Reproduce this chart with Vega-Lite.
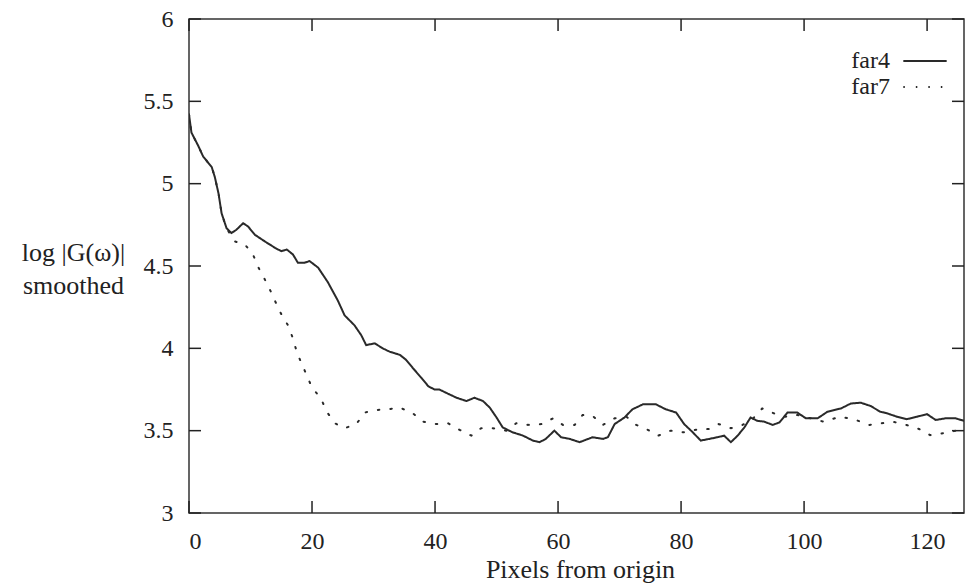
{
  "$schema": "https://vega.github.io/schema/vega-lite/v6.json",
  "width": 775,
  "height": 494,
  "autosize": {"type": "none"},
  "padding": {"left": 189, "top": 19, "right": 1, "bottom": 71},
  "background": "white",
  "config": {
    "view": {"stroke": "#333", "strokeWidth": 1.5},
    "font": "Liberation Serif",
    "axis": {
      "labelFont": "Liberation Serif",
      "labelFontSize": 24,
      "labelColor": "#222",
      "ticks": false,
      "titleFont": "Liberation Serif",
      "titleFontSize": 26,
      "titleFontWeight": "normal",
      "titleColor": "#222",
      "grid": false,
      "domain": false
    },
    "legend": {"labelFont": "Liberation Serif", "labelFontSize": 24, "labelColor": "#222"}
  },
  "datasets": {
    "xticks": [{"x": 0}, {"x": 20}, {"x": 40}, {"x": 60}, {"x": 80}, {"x": 100}, {"x": 120}],
    "yticks": [{"y": 3}, {"y": 3.5}, {"y": 4}, {"y": 4.5}, {"y": 5}, {"y": 5.5}, {"y": 6}],
    "curves": [
      {"x": 0, "y": 5.42, "series": "far4"},
      {"x": 0.4, "y": 5.31, "series": "far4"},
      {"x": 1.5, "y": 5.23, "series": "far4"},
      {"x": 2.3, "y": 5.165, "series": "far4"},
      {"x": 3.7, "y": 5.1, "series": "far4"},
      {"x": 4.2, "y": 5.04, "series": "far4"},
      {"x": 4.8, "y": 4.94, "series": "far4"},
      {"x": 5.3, "y": 4.82, "series": "far4"},
      {"x": 6.1, "y": 4.73, "series": "far4"},
      {"x": 6.9, "y": 4.7, "series": "far4"},
      {"x": 7.7, "y": 4.72, "series": "far4"},
      {"x": 8.8, "y": 4.76, "series": "far4"},
      {"x": 9.6, "y": 4.74, "series": "far4"},
      {"x": 10.7, "y": 4.69, "series": "far4"},
      {"x": 12.3, "y": 4.65, "series": "far4"},
      {"x": 14.0, "y": 4.61, "series": "far4"},
      {"x": 15.0, "y": 4.59, "series": "far4"},
      {"x": 15.9, "y": 4.6, "series": "far4"},
      {"x": 16.9, "y": 4.57, "series": "far4"},
      {"x": 17.7, "y": 4.52, "series": "far4"},
      {"x": 18.8, "y": 4.52, "series": "far4"},
      {"x": 19.6, "y": 4.53, "series": "far4"},
      {"x": 21.0, "y": 4.49, "series": "far4"},
      {"x": 22.6, "y": 4.4, "series": "far4"},
      {"x": 24.2, "y": 4.29, "series": "far4"},
      {"x": 25.3, "y": 4.2, "series": "far4"},
      {"x": 26.9, "y": 4.14, "series": "far4"},
      {"x": 28.0, "y": 4.08, "series": "far4"},
      {"x": 28.8, "y": 4.02, "series": "far4"},
      {"x": 30.2, "y": 4.03, "series": "far4"},
      {"x": 31.5, "y": 4.0, "series": "far4"},
      {"x": 32.6, "y": 3.98, "series": "far4"},
      {"x": 34.3, "y": 3.96, "series": "far4"},
      {"x": 35.3, "y": 3.93, "series": "far4"},
      {"x": 36.4, "y": 3.88, "series": "far4"},
      {"x": 37.8, "y": 3.82, "series": "far4"},
      {"x": 38.9, "y": 3.77, "series": "far4"},
      {"x": 39.9, "y": 3.75, "series": "far4"},
      {"x": 40.7, "y": 3.75, "series": "far4"},
      {"x": 41.8, "y": 3.73, "series": "far4"},
      {"x": 43.5, "y": 3.7, "series": "far4"},
      {"x": 45.1, "y": 3.68, "series": "far4"},
      {"x": 46.4, "y": 3.7, "series": "far4"},
      {"x": 47.8, "y": 3.68, "series": "far4"},
      {"x": 48.9, "y": 3.64, "series": "far4"},
      {"x": 50.0, "y": 3.58, "series": "far4"},
      {"x": 51.0, "y": 3.52, "series": "far4"},
      {"x": 52.6, "y": 3.49, "series": "far4"},
      {"x": 54.3, "y": 3.47, "series": "far4"},
      {"x": 55.9, "y": 3.44, "series": "far4"},
      {"x": 57.0, "y": 3.43, "series": "far4"},
      {"x": 58.0, "y": 3.45, "series": "far4"},
      {"x": 59.4, "y": 3.5, "series": "far4"},
      {"x": 60.5, "y": 3.46, "series": "far4"},
      {"x": 61.9, "y": 3.45, "series": "far4"},
      {"x": 63.5, "y": 3.43, "series": "far4"},
      {"x": 65.6, "y": 3.46, "series": "far4"},
      {"x": 67.3, "y": 3.45, "series": "far4"},
      {"x": 68.1, "y": 3.46, "series": "far4"},
      {"x": 69.2, "y": 3.54, "series": "far4"},
      {"x": 70.8, "y": 3.58, "series": "far4"},
      {"x": 72.1, "y": 3.63, "series": "far4"},
      {"x": 73.8, "y": 3.66, "series": "far4"},
      {"x": 75.9, "y": 3.66, "series": "far4"},
      {"x": 77.5, "y": 3.63, "series": "far4"},
      {"x": 79.2, "y": 3.61, "series": "far4"},
      {"x": 80.5, "y": 3.54, "series": "far4"},
      {"x": 81.9, "y": 3.49, "series": "far4"},
      {"x": 83.2, "y": 3.44, "series": "far4"},
      {"x": 84.6, "y": 3.45, "series": "far4"},
      {"x": 85.9, "y": 3.46, "series": "far4"},
      {"x": 87.0, "y": 3.47, "series": "far4"},
      {"x": 88.1, "y": 3.43, "series": "far4"},
      {"x": 89.2, "y": 3.47, "series": "far4"},
      {"x": 90.3, "y": 3.52, "series": "far4"},
      {"x": 91.3, "y": 3.58, "series": "far4"},
      {"x": 92.4, "y": 3.56, "series": "far4"},
      {"x": 93.5, "y": 3.555, "series": "far4"},
      {"x": 94.9, "y": 3.535, "series": "far4"},
      {"x": 96.0, "y": 3.55, "series": "far4"},
      {"x": 97.3, "y": 3.61, "series": "far4"},
      {"x": 98.9, "y": 3.61, "series": "far4"},
      {"x": 100.3, "y": 3.575, "series": "far4"},
      {"x": 102.2, "y": 3.575, "series": "far4"},
      {"x": 103.8, "y": 3.615, "series": "far4"},
      {"x": 106.0, "y": 3.635, "series": "far4"},
      {"x": 107.6, "y": 3.665, "series": "far4"},
      {"x": 109.2, "y": 3.67, "series": "far4"},
      {"x": 110.8, "y": 3.65, "series": "far4"},
      {"x": 112.4, "y": 3.615, "series": "far4"},
      {"x": 113.5, "y": 3.605, "series": "far4"},
      {"x": 115.1, "y": 3.585, "series": "far4"},
      {"x": 116.7, "y": 3.57, "series": "far4"},
      {"x": 118.4, "y": 3.585, "series": "far4"},
      {"x": 120.0, "y": 3.6, "series": "far4"},
      {"x": 121.4, "y": 3.565, "series": "far4"},
      {"x": 123.0, "y": 3.575, "series": "far4"},
      {"x": 124.6, "y": 3.575, "series": "far4"},
      {"x": 126.0, "y": 3.56, "series": "far4"},
      {"x": 0, "y": 5.42, "series": "far7"},
      {"x": 0.4, "y": 5.31, "series": "far7"},
      {"x": 1.5, "y": 5.23, "series": "far7"},
      {"x": 2.3, "y": 5.165, "series": "far7"},
      {"x": 3.7, "y": 5.1, "series": "far7"},
      {"x": 4.2, "y": 5.04, "series": "far7"},
      {"x": 4.8, "y": 4.94, "series": "far7"},
      {"x": 5.3, "y": 4.82, "series": "far7"},
      {"x": 6.1, "y": 4.73, "series": "far7"},
      {"x": 7.4, "y": 4.65, "series": "far7"},
      {"x": 9.1, "y": 4.63, "series": "far7"},
      {"x": 10.4, "y": 4.57, "series": "far7"},
      {"x": 11.3, "y": 4.49, "series": "far7"},
      {"x": 12.3, "y": 4.42, "series": "far7"},
      {"x": 13.3, "y": 4.345, "series": "far7"},
      {"x": 14.2, "y": 4.27, "series": "far7"},
      {"x": 15.1, "y": 4.2, "series": "far7"},
      {"x": 16.1, "y": 4.14, "series": "far7"},
      {"x": 16.8, "y": 4.07, "series": "far7"},
      {"x": 17.6, "y": 3.97, "series": "far7"},
      {"x": 18.4, "y": 3.9, "series": "far7"},
      {"x": 19.1, "y": 3.84, "series": "far7"},
      {"x": 19.9, "y": 3.77, "series": "far7"},
      {"x": 21.5, "y": 3.69, "series": "far7"},
      {"x": 22.5, "y": 3.61, "series": "far7"},
      {"x": 23.7, "y": 3.545, "series": "far7"},
      {"x": 25.3, "y": 3.515, "series": "far7"},
      {"x": 27.2, "y": 3.54, "series": "far7"},
      {"x": 28.6, "y": 3.61, "series": "far7"},
      {"x": 30.2, "y": 3.625, "series": "far7"},
      {"x": 32.4, "y": 3.63, "series": "far7"},
      {"x": 34.3, "y": 3.64, "series": "far7"},
      {"x": 36.4, "y": 3.605, "series": "far7"},
      {"x": 38.0, "y": 3.555, "series": "far7"},
      {"x": 40.2, "y": 3.54, "series": "far7"},
      {"x": 42.1, "y": 3.545, "series": "far7"},
      {"x": 44.0, "y": 3.505, "series": "far7"},
      {"x": 45.9, "y": 3.47, "series": "far7"},
      {"x": 47.5, "y": 3.515, "series": "far7"},
      {"x": 49.4, "y": 3.515, "series": "far7"},
      {"x": 51.6, "y": 3.5, "series": "far7"},
      {"x": 53.2, "y": 3.545, "series": "far7"},
      {"x": 55.1, "y": 3.535, "series": "far7"},
      {"x": 57.3, "y": 3.54, "series": "far7"},
      {"x": 59.2, "y": 3.575, "series": "far7"},
      {"x": 60.8, "y": 3.535, "series": "far7"},
      {"x": 62.7, "y": 3.535, "series": "far7"},
      {"x": 64.0, "y": 3.595, "series": "far7"},
      {"x": 65.6, "y": 3.59, "series": "far7"},
      {"x": 67.3, "y": 3.535, "series": "far7"},
      {"x": 69.2, "y": 3.575, "series": "far7"},
      {"x": 71.1, "y": 3.585, "series": "far7"},
      {"x": 72.7, "y": 3.535, "series": "far7"},
      {"x": 74.6, "y": 3.505, "series": "far7"},
      {"x": 76.3, "y": 3.47, "series": "far7"},
      {"x": 78.3, "y": 3.5, "series": "far7"},
      {"x": 80.4, "y": 3.49, "series": "far7"},
      {"x": 82.4, "y": 3.505, "series": "far7"},
      {"x": 84.5, "y": 3.51, "series": "far7"},
      {"x": 86.1, "y": 3.54, "series": "far7"},
      {"x": 88.1, "y": 3.515, "series": "far7"},
      {"x": 90.0, "y": 3.535, "series": "far7"},
      {"x": 91.6, "y": 3.57, "series": "far7"},
      {"x": 93.2, "y": 3.635, "series": "far7"},
      {"x": 95.1, "y": 3.605, "series": "far7"},
      {"x": 97.0, "y": 3.585, "series": "far7"},
      {"x": 98.9, "y": 3.595, "series": "far7"},
      {"x": 101.1, "y": 3.575, "series": "far7"},
      {"x": 103.1, "y": 3.555, "series": "far7"},
      {"x": 105.9, "y": 3.585, "series": "far7"},
      {"x": 108.4, "y": 3.565, "series": "far7"},
      {"x": 110.6, "y": 3.535, "series": "far7"},
      {"x": 112.6, "y": 3.545, "series": "far7"},
      {"x": 114.6, "y": 3.553, "series": "far7"},
      {"x": 116.8, "y": 3.533, "series": "far7"},
      {"x": 118.7, "y": 3.51, "series": "far7"},
      {"x": 120.5, "y": 3.473, "series": "far7"},
      {"x": 122.7, "y": 3.485, "series": "far7"},
      {"x": 124.7, "y": 3.5, "series": "far7"},
      {"x": 126.0, "y": 3.51, "series": "far7"}
    ]
  },
  "layer": [
    {
      "data": {"name": "xticks"},
      "mark": {"type": "rule", "strokeWidth": 1.5, "color": "#222"},
      "encoding": {
        "x": {
          "field": "x", "type": "quantitative",
          "scale": {"domain": [0, 126], "nice": false, "zero": false},
          "axis": {
            "orient": "bottom",
            "values": [0, 20, 40, 60, 80, 100, 120],
            "labelPadding": 16,
            "title": "Pixels from origin",
            "titleX": 391,
            "titleY": 64,
            "titleAlign": "center",
            "titleBaseline": "alphabetic"
          }
        },
        "y": {
          "datum": 3, "type": "quantitative",
          "scale": {"domain": [3, 6], "nice": false, "zero": false},
          "axis": {
            "orient": "left",
            "values": [3, 3.5, 4, 4.5, 5, 5.5, 6],
            "format": "~g",
            "labelPadding": 16,
            "title": ["log |G(ω)|", "smoothed"],
            "titleAngle": 0,
            "titleAlign": "center",
            "titleBaseline": "alphabetic",
            "titleX": -116,
            "titleY": 241,
            "titleLineHeight": 33
          }
        },
        "y2": {"datum": 3.073}
      }
    },
    {
      "data": {"name": "xticks"},
      "mark": {"type": "rule", "strokeWidth": 1.5, "color": "#222"},
      "encoding": {
        "x": {"field": "x", "type": "quantitative"},
        "y": {"datum": 6, "type": "quantitative"},
        "y2": {"datum": 5.927}
      }
    },
    {
      "data": {"name": "yticks"},
      "mark": {"type": "rule", "strokeWidth": 1.5, "color": "#222"},
      "encoding": {
        "y": {"field": "y", "type": "quantitative"},
        "x": {"datum": 0, "type": "quantitative"},
        "x2": {"datum": 1.95}
      }
    },
    {
      "data": {"name": "yticks"},
      "mark": {"type": "rule", "strokeWidth": 1.5, "color": "#222"},
      "encoding": {
        "y": {"field": "y", "type": "quantitative"},
        "x": {"datum": 126, "type": "quantitative"},
        "x2": {"datum": 124.05}
      }
    },
    {
      "data": {"name": "curves"},
      "mark": {"type": "line", "color": "#2a2a2a", "strokeWidth": 2, "strokeCap": "round", "clip": true},
      "encoding": {
        "x": {"field": "x", "type": "quantitative"},
        "y": {"field": "y", "type": "quantitative"},
        "strokeDash": {
          "field": "series", "type": "nominal",
          "scale": {"domain": ["far4", "far7"], "range": [[1, 0], [1.5, 11]]},
          "legend": {
            "orient": "none",
            "legendX": 724,
            "legendY": 30,
            "title": null,
            "symbolType": "M-2,0H2",
            "symbolSize": 470,
            "symbolStrokeWidth": 2,
            "symbolStrokeColor": "#2a2a2a",
            "labelAlign": "right",
            "labelOffset": -47,
            "padding": 0,
            "rowPadding": 2
          }
        }
      }
    }
  ]
}
